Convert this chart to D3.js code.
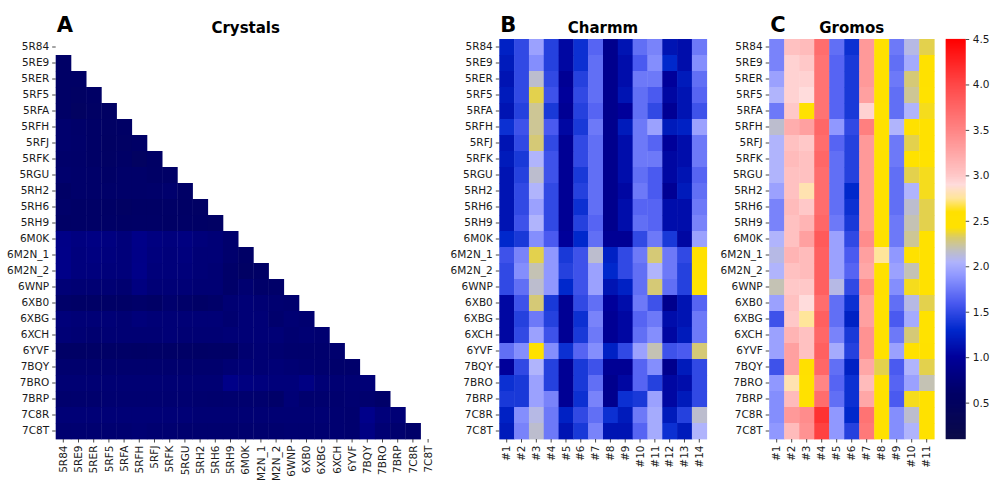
<!DOCTYPE html>
<html>
<head>
<meta charset="utf-8">
<script src="https://cdn.jsdelivr.net/npm/d3@7"></script>
<style>
  html, body { margin: 0; padding: 0; background: #fff; }
  svg { display: block; font-family: "DejaVu Sans", sans-serif; }
  .tick text { fill: #1a1a1a; }
  .tick line { stroke: #1a1a1a; stroke-width: 0.8; }
</style>
</head>
<body>
<svg id="chart" width="995" height="480"></svg>
<script>
// ---------------- data ----------------
const structures = ["5R84","5RE9","5RER","5RF5","5RFA","5RFH","5RFJ","5RFK","5RGU","5RH2","5RH6","5RH9",
  "6M0K","6M2N_1","6M2N_2","6WNP","6XB0","6XBG","6XCH","6YVF","7BQY","7BRO","7BRP","7C8R","7C8T"];
const charmmModels = ["#1","#2","#3","#4","#5","#6","#7","#8","#9","#10","#11","#12","#13","#14"];
const gromosModels = ["#1","#2","#3","#4","#5","#6","#7","#8","#9","#10","#11"];
const colorbarTicks = [0.5, 1.0, 1.5, 2.0, 2.5, 3.0, 3.5, 4.0, 4.5];

// Crystals: lower-triangular RMSD matrix (row i has i values)
const crystalValues = [
  [],
  [0.60],
  [0.60,0.58],
  [0.60,0.55,0.58],
  [0.60,0.52,0.57,0.55],
  [0.65,0.62,0.60,0.57,0.58],
  [0.65,0.63,0.60,0.55,0.57,0.60],
  [0.63,0.62,0.60,0.57,0.60,0.52,0.58],
  [0.65,0.63,0.62,0.60,0.62,0.62,0.60,0.60],
  [0.60,0.63,0.62,0.62,0.62,0.62,0.63,0.65,0.60],
  [0.62,0.60,0.60,0.58,0.55,0.58,0.58,0.60,0.58,0.57],
  [0.60,0.60,0.60,0.60,0.58,0.60,0.60,0.58,0.60,0.58,0.57],
  [0.85,0.80,0.82,0.80,0.75,0.86,0.80,0.78,0.80,0.75,0.72,0.65],
  [0.86,0.78,0.80,0.78,0.75,0.85,0.78,0.75,0.78,0.72,0.72,0.65,0.60],
  [0.86,0.78,0.78,0.75,0.75,0.86,0.75,0.75,0.75,0.72,0.70,0.62,0.57,0.58],
  [0.72,0.70,0.70,0.70,0.68,0.80,0.72,0.72,0.72,0.70,0.70,0.62,0.68,0.62,0.62],
  [0.62,0.60,0.60,0.60,0.60,0.62,0.60,0.65,0.62,0.60,0.62,0.70,0.72,0.70,0.68,0.66],
  [0.75,0.72,0.72,0.72,0.70,0.75,0.72,0.72,0.72,0.72,0.72,0.68,0.72,0.72,0.65,0.70,0.68],
  [0.72,0.70,0.68,0.70,0.70,0.70,0.70,0.72,0.70,0.70,0.70,0.72,0.72,0.72,0.72,0.68,0.70,0.68],
  [0.60,0.58,0.60,0.60,0.60,0.58,0.60,0.60,0.60,0.58,0.60,0.60,0.68,0.70,0.68,0.65,0.65,0.65,0.66],
  [0.66,0.65,0.65,0.65,0.65,0.65,0.65,0.65,0.65,0.65,0.65,0.70,0.72,0.70,0.72,0.70,0.68,0.66,0.64,0.64],
  [0.70,0.70,0.70,0.70,0.70,0.70,0.70,0.70,0.70,0.70,0.70,0.86,0.80,0.78,0.75,0.75,0.82,0.72,0.70,0.70,0.72],
  [0.65,0.65,0.65,0.68,0.68,0.68,0.68,0.68,0.68,0.66,0.65,0.66,0.66,0.65,0.62,0.72,0.66,0.66,0.66,0.68,0.66,0.62],
  [0.72,0.72,0.72,0.72,0.72,0.72,0.72,0.72,0.72,0.70,0.70,0.70,0.70,0.70,0.70,0.70,0.70,0.70,0.68,0.66,0.88,0.75,0.72],
  [0.68,0.68,0.68,0.68,0.68,0.70,0.68,0.68,0.66,0.66,0.66,0.66,0.66,0.66,0.66,0.68,0.68,0.68,0.68,0.66,0.82,0.70,0.66,0.62]
];

// Charmm: RMSD of each structure vs 14 models
const charmmValues = [
  [1.25,1.50,1.95,1.45,1.05,1.35,1.65,0.90,1.15,1.70,1.80,1.15,1.10,1.75],
  [1.20,1.50,1.85,1.45,1.05,1.35,1.70,0.90,1.10,1.60,1.85,1.30,1.10,1.85],
  [1.15,1.50,2.15,1.50,0.95,1.45,1.70,0.90,1.10,1.75,1.75,1.00,1.20,1.70],
  [1.20,1.50,2.35,1.55,1.00,1.50,1.70,0.90,1.15,1.70,1.60,1.05,1.15,1.65],
  [1.15,1.45,2.25,1.40,0.95,1.45,1.65,0.90,1.00,1.70,1.50,0.95,1.15,1.55],
  [1.35,1.55,2.25,1.60,1.05,1.40,1.75,0.90,1.20,1.75,1.95,1.20,1.25,1.95],
  [1.15,1.50,2.30,1.50,0.95,1.50,1.70,0.90,1.10,1.75,1.65,1.00,1.10,1.75],
  [1.20,1.40,2.05,1.55,0.95,1.50,1.70,0.90,1.10,1.75,1.75,1.05,1.10,1.75],
  [1.15,1.45,2.15,1.55,0.95,1.40,1.70,0.90,1.10,1.70,1.60,1.05,1.15,1.65],
  [1.15,1.50,2.05,1.50,0.95,1.45,1.70,0.90,1.05,1.75,1.60,0.95,1.20,1.70],
  [1.15,1.50,1.95,1.50,0.95,1.35,1.70,0.90,1.10,1.65,1.65,1.10,1.10,1.75],
  [1.15,1.55,2.05,1.50,0.95,1.45,1.65,0.90,1.10,1.70,1.65,1.10,1.10,1.80],
  [1.30,1.40,1.85,1.60,1.00,1.30,1.70,0.95,0.95,1.50,1.75,1.40,1.05,1.95],
  [1.55,1.80,2.35,1.90,1.40,1.55,2.15,1.25,1.50,1.75,2.30,1.75,1.50,2.60],
  [1.50,1.85,2.20,1.90,1.45,1.55,1.95,1.30,1.50,1.70,2.05,1.75,1.45,2.50],
  [1.50,1.70,2.15,1.90,1.30,1.55,1.95,1.15,1.25,1.70,2.30,1.70,1.45,2.45],
  [1.05,1.55,2.30,1.40,0.95,1.50,1.70,1.00,1.10,1.75,1.55,0.90,1.15,1.65],
  [1.05,1.45,1.75,1.45,0.95,1.35,1.80,0.95,1.05,1.65,1.75,1.10,1.15,1.75],
  [1.05,1.50,1.95,1.55,0.95,1.40,1.75,0.95,1.05,1.70,1.85,1.05,1.20,1.75],
  [1.70,1.85,2.50,1.85,1.35,1.65,1.85,1.25,1.50,1.95,2.20,1.55,1.60,2.30],
  [1.00,1.50,2.05,1.45,0.95,1.40,1.55,0.95,0.95,1.65,1.85,0.90,1.20,1.50],
  [1.35,1.40,1.95,1.45,0.95,1.40,1.70,0.90,1.05,1.65,1.45,1.05,1.10,1.50],
  [1.40,1.40,1.95,1.80,0.95,1.35,1.80,0.90,1.35,1.40,1.95,1.05,1.20,1.50],
  [1.25,1.85,2.10,1.75,1.25,1.50,1.70,1.35,1.20,1.75,2.00,1.20,1.45,2.15],
  [1.20,1.80,2.15,1.75,1.15,1.40,1.80,1.15,1.15,1.65,2.00,1.35,1.20,2.05]
];

// Gromos: RMSD of each structure vs 11 models
const gromosValues = [
  [1.80,3.05,3.10,3.70,1.70,1.35,3.35,2.50,1.75,2.10,2.35],
  [1.80,2.95,3.00,3.65,1.65,1.40,3.35,2.55,1.70,2.00,2.55],
  [1.95,2.95,2.95,3.65,1.65,1.40,3.35,2.50,1.75,2.30,2.50],
  [2.05,2.95,2.90,3.65,1.65,1.40,3.30,2.50,1.70,2.25,2.45],
  [1.75,3.00,2.50,3.65,1.65,1.40,2.95,2.45,1.70,2.05,2.40],
  [2.15,3.20,3.30,3.75,1.90,1.50,3.55,2.50,2.05,2.55,2.55],
  [2.05,3.05,3.00,3.70,1.65,1.45,3.35,2.50,1.75,2.35,2.50],
  [2.05,3.10,3.05,3.75,1.70,1.45,3.35,2.50,1.75,2.45,2.45],
  [2.05,3.05,3.05,3.70,1.70,1.45,3.35,2.50,1.70,2.35,2.40],
  [1.95,3.05,2.80,3.70,1.70,1.30,3.35,2.50,1.70,2.05,2.40],
  [1.80,3.10,3.00,3.70,1.70,1.35,3.35,2.50,1.70,2.15,2.35],
  [1.80,3.05,3.15,3.75,1.75,1.40,3.35,2.50,1.75,2.20,2.35],
  [2.05,3.05,3.30,3.85,1.95,1.50,3.45,2.50,1.75,2.25,2.50],
  [2.10,3.15,3.10,3.80,1.95,1.60,3.30,2.75,1.90,2.50,2.50],
  [2.05,3.05,3.10,3.80,1.95,1.65,3.25,2.55,1.95,2.20,2.50],
  [2.20,3.00,3.00,3.80,2.10,1.50,3.45,2.60,1.85,2.40,2.55],
  [1.95,3.05,2.90,3.70,1.70,1.35,3.30,2.50,1.70,2.10,2.35],
  [1.55,3.00,2.75,3.80,1.70,1.25,3.30,2.50,1.60,2.00,2.45],
  [1.95,3.15,3.05,3.75,1.80,1.40,3.40,2.50,1.75,2.30,2.45],
  [1.95,3.30,3.05,3.80,2.00,1.45,3.40,2.55,1.95,2.50,2.50],
  [1.55,3.30,2.60,3.75,1.70,1.25,3.25,2.35,1.60,2.05,2.35],
  [1.90,2.80,2.50,3.50,1.65,1.35,3.10,2.55,1.65,1.95,2.20],
  [1.85,3.10,2.55,3.70,1.70,1.35,3.25,2.50,1.60,2.40,2.50],
  [1.85,3.35,3.45,4.15,1.90,1.30,3.65,2.50,1.85,2.15,2.50],
  [1.90,3.10,3.40,4.05,1.90,1.45,3.60,2.50,1.85,2.05,2.50]
];

// ---------------- colour map ----------------
const cmapStops = [0.1, 0.6, 1.0, 1.3, 1.6, 1.9, 2.05, 2.18, 2.32, 2.43, 2.6, 2.75, 2.9, 3.0, 3.5, 4.0, 4.5];
const cmapColors = ["#0b0b48","#000066","#00009a","#0028cc","#4a5af0","#9098ff","#b0b4fc","#c0c0c0",
  "#d9cb6a","#ffe200","#ffe000","#ffe59a","#ffdcdc","#ffc8c8","#ff8585","#ff4848","#ff0000"];
const color = d3.scaleLinear().domain(cmapStops).range(cmapColors).interpolate(d3.interpolateRgb).clamp(true);

// ---------------- layout ----------------
const svg = d3.select("#chart");
const yTop = 39, yBottom = 439;
const fontSize = 10.5;

function drawHeatmap(opts) {
  const { x0, x1, cols, values, title, letter } = opts;
  const x = d3.scaleBand().domain(cols).range([x0, x1]).padding(0);
  const y = d3.scaleBand().domain(structures).range([yTop, yBottom]).padding(0);
  const g = svg.append("g");

  const cells = [];
  values.forEach((row, i) => row.forEach((v, j) => cells.push({ r: structures[i], c: cols[j], v })));
  g.selectAll("rect.cell").data(cells).join("rect")
    .attr("class", "cell")
    .attr("x", d => x(d.c))
    .attr("y", d => y(d.r))
    .attr("width", x.bandwidth() + 0.4)
    .attr("height", y.bandwidth() + 0.4)
    .attr("fill", d => color(d.v));

  const ya = g.append("g").attr("transform", `translate(${x0},0)`)
    .call(d3.axisLeft(y).tickSize(3.5).tickPadding(3));
  ya.select(".domain").remove();
  ya.selectAll("text").attr("font-size", fontSize).attr("font-family", "DejaVu Sans");

  const xa = g.append("g").attr("transform", `translate(0,${yBottom})`)
    .call(d3.axisBottom(x).tickSize(3.5).tickPadding(3));
  xa.select(".domain").remove();
  xa.selectAll("text")
    .attr("font-size", fontSize).attr("font-family", "DejaVu Sans")
    .attr("transform", "rotate(-90)")
    .attr("x", -6.5).attr("y", 0).attr("dy", "0.35em")
    .attr("text-anchor", "end");

  g.append("text").attr("x", (x0 + x1) / 2).attr("y", 33)
    .attr("text-anchor", "middle").attr("font-weight", "bold").attr("font-size", 15)
    .attr("fill", "#000").text(title);
  g.append("text").attr("x", x0 + 1).attr("y", 32)
    .attr("font-weight", "bold").attr("font-size", 21)
    .attr("fill", "#000").text(letter);
}

drawHeatmap({ x0: 55.7, x1: 435.7, cols: structures, values: crystalValues, title: "Crystals", letter: "A" });
drawHeatmap({ x0: 499.3, x1: 706.7, cols: charmmModels, values: charmmValues, title: "Charmm", letter: "B" });
drawHeatmap({ x0: 769.2, x1: 934.2, cols: gromosModels, values: gromosValues, title: "Gromos", letter: "C" });

// ---------------- colour bar ----------------
const cbX0 = 945.7, cbW = 20;
const cbScale = d3.scaleLinear().domain([0.1, 4.5]).range([yBottom, yTop]);
const cbSteps = d3.range(0, 400).map(i => 0.1 + (4.4 * (i + 0.5)) / 400);
svg.append("g").selectAll("rect").data(cbSteps).join("rect")
  .attr("x", cbX0).attr("width", cbW)
  .attr("y", d => cbScale(d) - 0.6).attr("height", 1.3)
  .attr("fill", d => color(d));
const cba = svg.append("g").attr("transform", `translate(${cbX0 + cbW},0)`)
  .call(d3.axisRight(cbScale).tickValues(colorbarTicks).tickFormat(d3.format(".1f")).tickSize(3.5).tickPadding(3.5));
cba.select(".domain").remove();
cba.selectAll("text").attr("font-size", fontSize).attr("font-family", "DejaVu Sans");
</script>
</body>
</html>
